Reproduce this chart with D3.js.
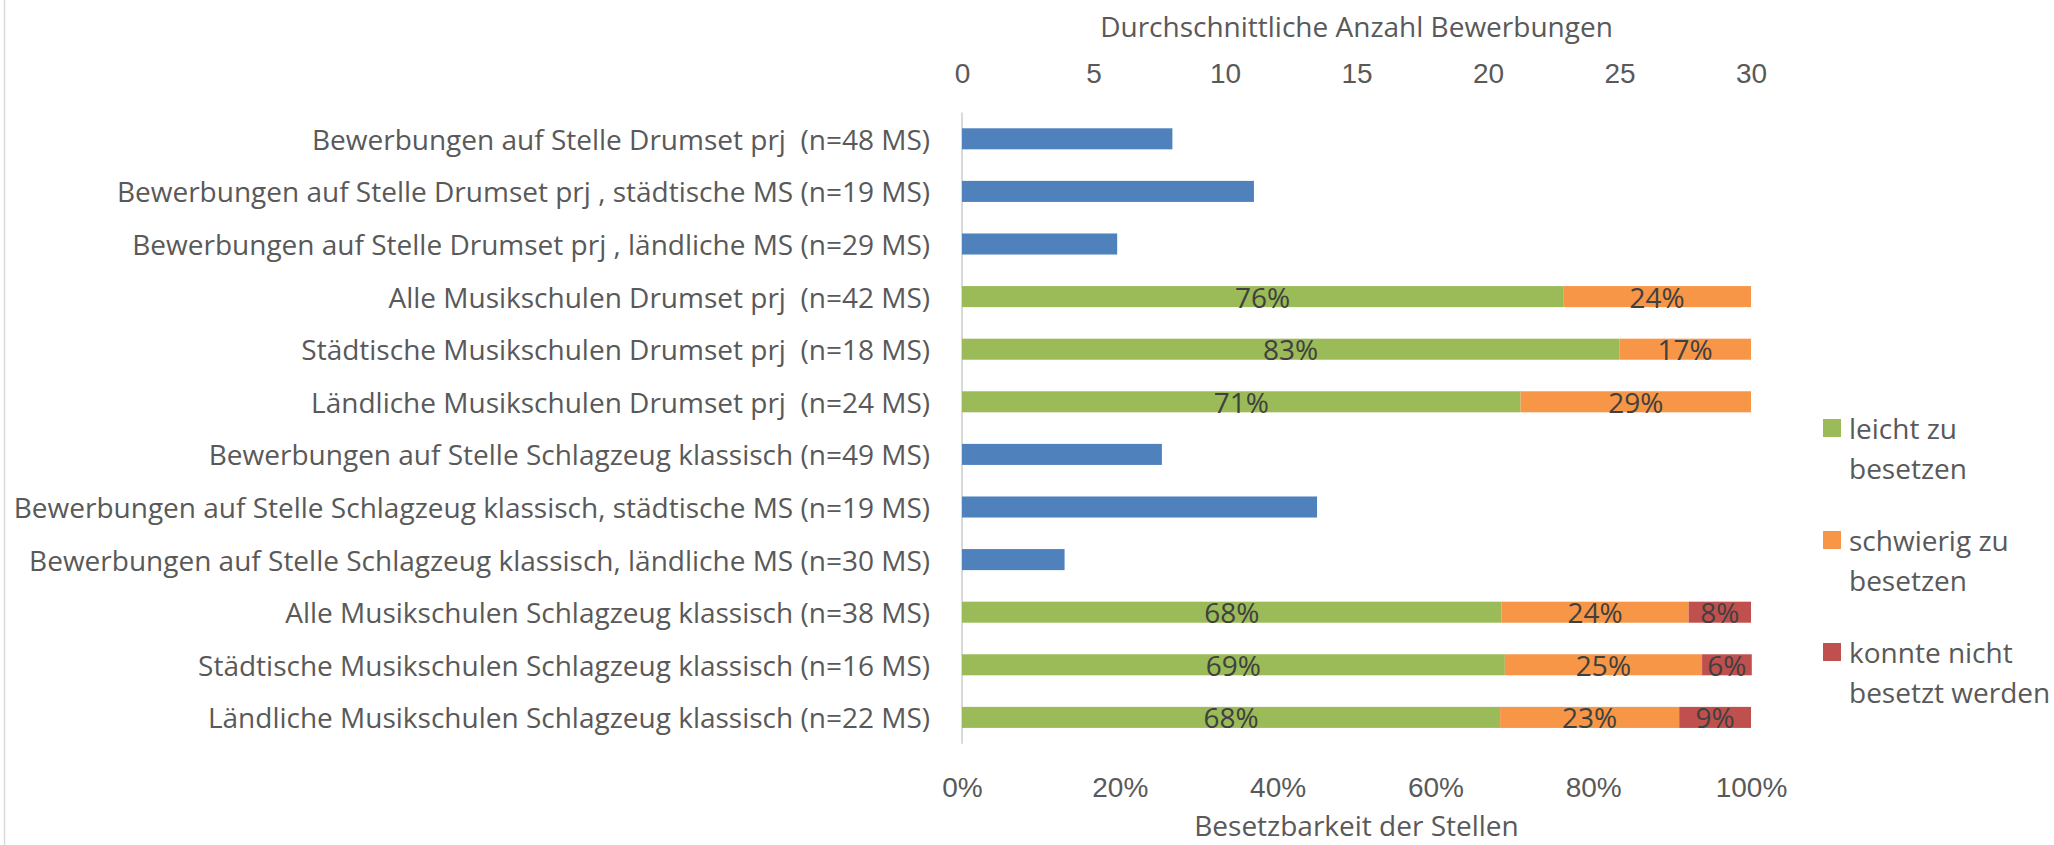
<!DOCTYPE html>
<html>
<head>
<meta charset="utf-8">
<script src="https://cdn.jsdelivr.net/npm/d3@7"></script>
<style>
    body { margin: 0; background: #fff; }
    svg { display: block; font-family: "Open Sans", sans-serif; }
    text { white-space: pre; }
</style>
</head>
<body>
<svg width="2054" height="845"></svg>
<script>
const categories = [
    "Bewerbungen auf Stelle Drumset prj  (n=48 MS)",
    "Bewerbungen auf Stelle Drumset prj , städtische MS (n=19 MS)",
    "Bewerbungen auf Stelle Drumset prj , ländliche MS (n=29 MS)",
    "Alle Musikschulen Drumset prj  (n=42 MS)",
    "Städtische Musikschulen Drumset prj  (n=18 MS)",
    "Ländliche Musikschulen Drumset prj  (n=24 MS)",
    "Bewerbungen auf Stelle Schlagzeug klassisch (n=49 MS)",
    "Bewerbungen auf Stelle Schlagzeug klassisch, städtische MS (n=19 MS)",
    "Bewerbungen auf Stelle Schlagzeug klassisch, ländliche MS (n=30 MS)",
    "Alle Musikschulen Schlagzeug klassisch (n=38 MS)",
    "Städtische Musikschulen Schlagzeug klassisch (n=16 MS)",
    "Ländliche Musikschulen Schlagzeug klassisch (n=22 MS)"
];

// average number of applications (top axis), null = row belongs to the % series
const bewerbungen = [8.0, 11.1, 5.9, null, null, null, 7.6, 13.5, 3.9, null, null, null];

// Besetzbarkeit in percent (bottom axis)
const leicht    = [null, null, null, 76.2, 83.3, 70.8, null, null, null, 68.4, 68.8, 68.2];
const schwierig = [null, null, null, 23.8, 16.7, 29.2, null, null, null, 23.7, 25.0, 22.7];
const nicht     = [null, null, null, 0,    0,    0,    null, null, null, 7.9,  6.3,  9.1];

const seriesNames = ["leicht zu besetzen", "schwierig zu besetzen", "konnte nicht besetzt werden"];
const legendLines = [["leicht zu", "besetzen"], ["schwierig zu", "besetzen"], ["konnte nicht", "besetzt werden"]];
const countTicks = [0, 5, 10, 15, 20, 25, 30];
const pctTicks = [0, 0.2, 0.4, 0.6, 0.8, 1];

const colors = ["#9bbb59", "#f79646", "#c0504d"];
const blue = "#4f81bd";
const textColor = "#595959";
const fs = 28;

const svg = d3.select("svg");
const plotLeft = 962, plotRight = 1751, plotTop = 112.5, plotBottom = 743.7;

const xCount = d3.scaleLinear().domain([0, 30]).range([plotLeft, plotRight]);
const xPct = d3.scaleLinear().domain([0, 1]).range([plotLeft, plotRight]);
const y = d3.scaleBand().domain(categories).range([plotTop, plotBottom])
    .paddingInner(0.6).paddingOuter(0.3);

// frame line on the left edge
svg.append("line")
    .attr("x1", 4.5).attr("x2", 4.5).attr("y1", 0).attr("y2", 845)
    .attr("stroke", "#d9d9d9").attr("stroke-width", 1.5);

// top axis
const topAxis = svg.append("g")
    .call(d3.axisTop(xCount).tickValues(countTicks).tickSize(0).tickPadding(0));
topAxis.select(".domain").remove();
topAxis.selectAll("text")
    .attr("fill", textColor).style("font-size", fs + "px")
    .attr("font-family", null)
    .attr("y", 73).attr("dy", null).attr("dominant-baseline", "central");

svg.append("text")
    .attr("x", xCount(15)).attr("y", 26)
    .attr("text-anchor", "middle").attr("dominant-baseline", "central")
    .attr("fill", textColor).style("font-size", fs + "px")
    .text("Durchschnittliche Anzahl Bewerbungen");

// bottom axis
const bottomAxis = svg.append("g")
    .call(d3.axisBottom(xPct).tickValues(pctTicks).tickFormat(d3.format(".0%")).tickSize(0).tickPadding(0));
bottomAxis.select(".domain").remove();
bottomAxis.selectAll("text")
    .attr("fill", textColor).style("font-size", fs + "px")
    .attr("font-family", null)
    .attr("y", 787).attr("dy", null).attr("dominant-baseline", "central");

svg.append("text")
    .attr("x", xPct(0.5)).attr("y", 836)
    .attr("text-anchor", "middle")
    .attr("fill", textColor).style("font-size", fs + "px")
    .text("Besetzbarkeit der Stellen");

// category axis
svg.append("line")
    .attr("x1", plotLeft).attr("x2", plotLeft).attr("y1", plotTop).attr("y2", plotBottom)
    .attr("stroke", "#d9d9d9").attr("stroke-width", 2);

svg.append("g").selectAll("text")
    .data(categories)
    .join("text")
    .attr("x", 930)
    .attr("y", d => y(d) + y.bandwidth() / 2)
    .attr("text-anchor", "end").attr("dominant-baseline", "central")
    .attr("fill", textColor).style("font-size", fs + "px")
    .text(d => d);

// blue bars: applications
const countRows = categories.map((c, i) => ({ cat: c, v: bewerbungen[i] })).filter(d => d.v !== null);
svg.append("g").selectAll("rect")
    .data(countRows)
    .join("rect")
    .attr("x", xCount(0))
    .attr("y", d => y(d.cat))
    .attr("width", d => xCount(d.v) - xCount(0))
    .attr("height", y.bandwidth())
    .attr("fill", blue);

// stacked bars: Besetzbarkeit
const pctRows = [];
categories.forEach((c, i) => {
    if (leicht[i] === null) return;
    const vals = [leicht[i], schwierig[i], nicht[i]];
    let start = 0;
    vals.forEach((v, k) => {
        pctRows.push({ cat: c, k: k, x0: start / 100, x1: (start + v) / 100, v: v });
        start += v;
    });
});

const segs = svg.append("g").selectAll("g")
    .data(pctRows.filter(d => d.v > 0))
    .join("g");

segs.append("rect")
    .attr("x", d => xPct(d.x0))
    .attr("y", d => y(d.cat))
    .attr("width", d => xPct(d.x1) - xPct(d.x0))
    .attr("height", y.bandwidth())
    .attr("fill", d => colors[d.k]);

segs.append("text")
    .attr("x", d => (xPct(d.x0) + xPct(d.x1)) / 2)
    .attr("y", d => y(d.cat) + y.bandwidth() / 2)
    .attr("text-anchor", "middle").attr("dominant-baseline", "central")
    .attr("fill", "#404040").style("font-size", fs + "px")
    .text(d => d3.format(".0%")(d.v / 100));

// legend
const legend = svg.append("g").selectAll("g")
    .data(seriesNames)
    .join("g")
    .attr("transform", (d, i) => `translate(1823,${428 + i * 112})`);

legend.append("rect")
    .attr("x", 0).attr("y", -9).attr("width", 18).attr("height", 18)
    .attr("fill", (d, i) => colors[i]);

legend.each(function(d, i) {
    d3.select(this).selectAll("text")
        .data(legendLines[i])
        .join("text")
        .attr("x", 26)
        .attr("y", (t, j) => j * 40)
        .attr("dominant-baseline", "central")
        .attr("fill", textColor).style("font-size", fs + "px")
        .text(t => t);
});
</script>
</body>
</html>
